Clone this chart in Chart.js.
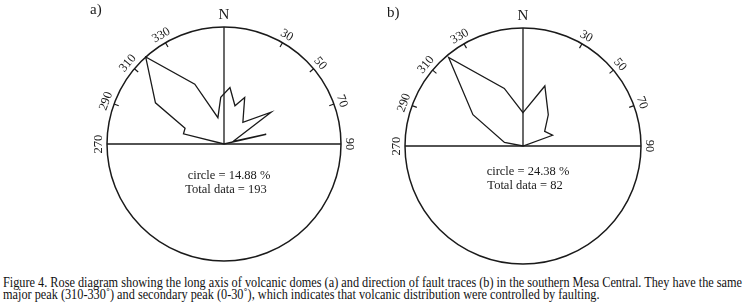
<!DOCTYPE html>
<html>
<head>
<meta charset="utf-8">
<script src="https://cdn.jsdelivr.net/npm/chart.js@4.4.0/dist/chart.umd.min.js"></script>
<style>
  body { margin: 0; background: #fff; width: 745px; height: 308px; overflow: hidden; position: relative; font-family: "Liberation Serif", "Times New Roman", serif; color: #111; }
  #wrapA { position: absolute; left: 0; top: 0; }
  #wrapB { position: absolute; left: 372px; top: 0; }
  #caption { position: absolute; left: 3px; top: 277px; font-size: 14px; line-height: 12.3px; white-space: nowrap; transform-origin: 0 0; }
  #caption span { display: block; }
</style>
</head>
<body>
<div id="wrapA"><canvas id="roseA" width="372" height="270"></canvas></div>
<div id="wrapB"><canvas id="roseB" width="373" height="270"></canvas></div>
<div id="caption">
  <span id="capLine1">Figure 4. Rose diagram showing the long axis of volcanic domes (a) and direction of fault traces (b) in the southern Mesa Central. They have the same</span>
  <span>major peak (310-330˚) and secondary peak (0-30˚), which indicates that volcanic distribution were controlled by faulting.</span>
</div>
<script>
// azimuth (deg, clockwise from N) and frequency (%) of each vertex of the rose
var domesAzimuth = [284, 292, 301, 318, 334, 347, 356, 6, 16, 24, 41, 56, 74, 77, 90, 270];
var domesPercent = [5.31, 5.34, 10.17, 14.88, 8.47, 3.44, 5.95, 7.22, 5.06, 6.47, 3.66, 7.22, 1.19, 5.51, 0, 0];
var domesCircle = 14.88;
var domesTotal = 193;

var faultsAzimuth = [281, 302, 320, 342, 0, 20, 39, 56, 70, 90, 270];
var faultsPercent = [3.9, 12.2, 23.9, 12.5, 6.9, 13.2, 8.3, 5.4, 6.5, 0, 0];
var faultsCircle = 24.38;
var faultsTotal = 82;

var labelAngles = [30, 50, 70, 90, 270, 290, 310, 330];
var markAngles = [30, 50, 70, 290, 310, 330];
var axisAngles = [0, 90, 270];

// one radar label per degree, so the vertices can sit at any azimuth
var degreeLabels = [];
for (var d = 0; d < 360; d++) degreeLabels.push(String(d));

function buildSeries(az, pct) {
  var out = degreeLabels.map(function() { return null; });
  az.forEach(function(a, i) { out[a] = pct[i]; });
  return out;
}

var ink = '#1a1a1a';

var roseDecor = {
  id: 'roseDecor',
  afterDraw: function(chart, args, o) {
    var r = chart.scales.r;
    var ctx = chart.ctx;
    var R = r.drawingArea;
    ctx.save();
    ctx.strokeStyle = ink;
    ctx.lineWidth = 1.2;
    markAngles.forEach(function(a) {
      var p1 = r.getPointPosition(a, R - 5);
      var p2 = r.getPointPosition(a, R);
      ctx.beginPath();
      ctx.moveTo(p1.x, p1.y);
      ctx.lineTo(p2.x, p2.y);
      ctx.stroke();
    });
    ctx.fillStyle = ink;
    ctx.textAlign = 'center';
    ctx.textBaseline = 'middle';
    ctx.font = '12.5px "Liberation Serif"';
    labelAngles.forEach(function(a) {
      var p = r.getPointPosition(a, R + 8.5);
      ctx.save();
      ctx.translate(p.x, p.y);
      ctx.rotate((a > 180 ? a - 360 : a) * Math.PI / 180);
      ctx.fillText(String(a), 0, 0);
      ctx.restore();
    });
    ctx.font = '15px "Liberation Serif"';
    var pn = r.getPointPosition(0, R + 12);
    ctx.fillText('N', pn.x, pn.y);

    ctx.textBaseline = 'alphabetic';
    ctx.textAlign = 'left';
    ctx.font = '15px "Liberation Serif"';
    ctx.fillText(o.panel, r.xCenter + o.panelDx, r.yCenter + o.panelDy);

    ctx.textAlign = 'center';
    ctx.font = '12.5px "Liberation Serif"';
    ctx.fillText('circle = ' + o.circle.toFixed(2) + ' %', r.xCenter + 5, r.yCenter + o.textDy);
    ctx.fillText('Total data = ' + o.total, r.xCenter + 2, r.yCenter + o.textDy + 14);
    ctx.restore();
  }
};

function makeRose(id, az, pct, circle, total, padding, deco) {
  deco.circle = circle;
  deco.total = total;
  return new Chart(document.getElementById(id), {
    type: 'radar',
    data: {
      labels: degreeLabels,
      datasets: [{
        data: buildSeries(az, pct),
        borderColor: ink,
        borderWidth: 1.3,
        pointRadius: 0,
        pointHoverRadius: 0,
        fill: false,
        tension: 0,
        spanGaps: true
      }]
    },
    options: {
      responsive: false,
      animation: false,
      events: [],
      layout: { padding: padding },
      plugins: {
        legend: { display: false },
        tooltip: { enabled: false },
        roseDecor: deco
      },
      scales: {
        r: {
          min: 0,
          max: circle,
          ticks: { display: false, stepSize: circle },
          pointLabels: { display: false },
          grid: { circular: true, color: ink, lineWidth: 1.5 },
          angleLines: {
            color: ink,
            lineWidth: function(c) { return axisAngles.indexOf(c.index) >= 0 ? 1.3 : 0; }
          }
        }
      }
    },
    plugins: [roseDecor]
  });
}

makeRose('roseA', domesAzimuth, domesPercent, domesCircle, domesTotal,
  { left: 107, right: 30, top: 27, bottom: 8 },
  { panel: 'a)', panelDx: -134, panelDy: -130, textDy: 35 });

makeRose('roseB', faultsAzimuth, faultsPercent, faultsCircle, faultsTotal,
  { left: 33, right: 104, top: 28, bottom: 6 },
  { panel: 'b)', panelDx: -136, panelDy: -129, textDy: 29 });

// the printed caption is narrower than the font, squeeze it to the page width
var cap = document.getElementById('caption');
var w = document.getElementById('capLine1').getBoundingClientRect().width;
cap.style.transform = 'scaleX(' + (739 / w) + ')';
</script>
</body>
</html>
